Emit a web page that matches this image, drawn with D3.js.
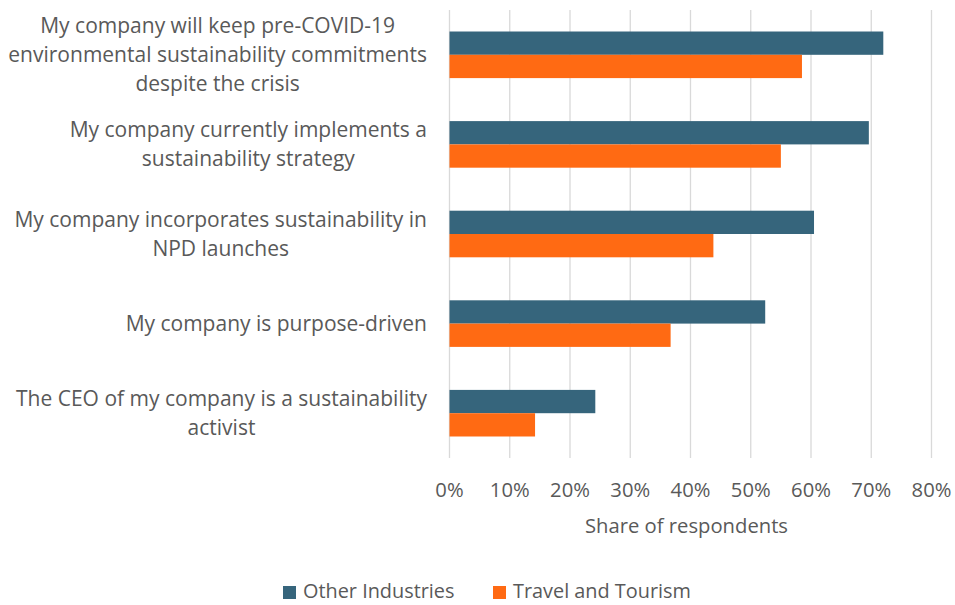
<!DOCTYPE html>
<html lang="en">
<head>
	<meta charset="utf-8">
	<title>Sustainability commitments</title>
	<script src="https://d3js.org/d3.v7.min.js"></script>
	<style type="text/css">
		body { margin: 0; background: #fff; }
		svg { display: block; }
		text { font-family: "Open Sans", sans-serif; fill: #595959; }
	</style>
</head>
<body>
	<svg id="chart" width="955" height="605"></svg>

	<script type="text/javascript">

	// data
	var categories = [
		["My company will keep pre-COVID-19", "environmental sustainability commitments", "despite the crisis"],
		["My company currently implements a", "sustainability strategy"],
		["My company incorporates sustainability in", "NPD launches"],
		["My company is purpose-driven"],
		["The CEO of my company is a sustainability", "activist"]
	]
	var seriesNames = ["Other Industries", "Travel and Tourism"]
	var otherIndustries = [0.72, 0.696, 0.605, 0.524, 0.242]
	var travelTourism = [0.585, 0.55, 0.438, 0.367, 0.142]
	var tickValues = [0, 0.1, 0.2, 0.3, 0.4, 0.5, 0.6, 0.7, 0.8]

	var blue = "#36657c"
	var orange = "#ff6a13"
	var colors = [blue, orange]

	var rows = categories.map((c, i) => ({idx: i, lines: c, values: [otherIndustries[i], travelTourism[i]]}))

	// layout
	var margin = {top: 10, left: 449.5, right: 23.5, bottom: 147}
	var W = 955, H = 605
	var svg = d3.select("#chart")

	// font size so that a sample string is as wide as in the reference (no Calibri here)
	function fitSize(sample, targetW) {
		var t = svg.append("text").attr("font-size", 20).text(sample)
		var w = t.node().getComputedTextLength()
		t.remove()
		return 20 * targetW / w
	}
	var labelSize = fitSize("environmental sustainability commitments", 419)
	var tickSize = fitSize("Share of respondents", 203)
	var legendSize = fitSize("Travel and Tourism", 178)

	var x = d3.scaleLinear().domain([0, 0.8]).range([margin.left, W - margin.right])
	var y = d3.scaleBand().domain(d3.range(categories.length)).range([margin.top, H - margin.bottom])
		.paddingInner(0.48).paddingOuter(0.24)
	var ySub = d3.scaleBand().domain([0, 1]).range([0, y.bandwidth()])

	// gridlines
	svg.append("g")
		.selectAll("line")
		.data(tickValues)
		.join("line")
		.attr("x1", d => x(d)).attr("x2", d => x(d))
		.attr("y1", margin.top).attr("y2", H - margin.bottom)
		.attr("stroke", "#d9d9d9")
		.attr("stroke-width", 1.3)

	// bars
	var groups = svg.append("g")
		.selectAll("g")
		.data(rows)
		.join("g")
		.attr("transform", d => "translate(0," + y(d.idx) + ")")

	groups.selectAll("rect")
		.data(d => d.values.map((v, j) => ({v: v, j: j})))
		.join("rect")
		.attr("x", x(0))
		.attr("y", d => ySub(d.j))
		.attr("width", d => x(d.v) - x(0))
		.attr("height", ySub.bandwidth())
		.attr("fill", d => colors[d.j])

	// x tick labels
	svg.append("g")
		.selectAll("text")
		.data(tickValues)
		.join("text")
		.attr("x", d => x(d))
		.attr("y", 497)
		.attr("text-anchor", "middle")
		.attr("font-size", tickSize)
		.text(d3.format(".0%"))

	svg.append("text")
		.attr("x", (x(0) + x(0.8)) / 2 - 4)
		.attr("y", 533)
		.attr("text-anchor", "middle")
		.attr("font-size", tickSize)
		.text("Share of respondents")

	// category labels, lines centered in a block right-aligned to labelRight
	var labelRight = 427
	var lineH = 29
	var labels = svg.append("g")
	rows.forEach(function(r) {
		var g = labels.append("g")
		var cy = y(r.idx) + y.bandwidth() / 2
		var n = r.lines.length
		var texts = g.selectAll("text")
			.data(r.lines)
			.join("text")
			.attr("y", (d, i) => cy + (i - (n - 1) / 2) * lineH + 7)
			.attr("text-anchor", "middle")
			.attr("font-size", labelSize)
			.text(d => d)
		var maxW = d3.max(texts.nodes(), t => t.getComputedTextLength())
		texts.attr("x", labelRight - maxW / 2)
	})

	// legend
	var legend = svg.append("g")
	var legendX = [283, 493]
	seriesNames.forEach(function(name, j) {
		legend.append("rect")
			.attr("x", legendX[j]).attr("y", 586)
			.attr("width", 13).attr("height", 13)
			.attr("fill", colors[j])
		legend.append("text")
			.attr("x", legendX[j] + 20).attr("y", 598)
			.attr("font-size", legendSize)
			.text(name)
	})

	</script>
</body>
</html>
